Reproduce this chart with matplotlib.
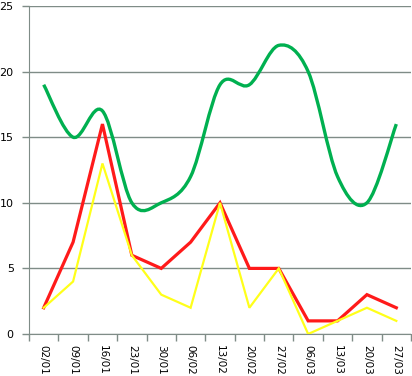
import numpy as np
import matplotlib.pyplot as plt
from matplotlib.path import Path
from matplotlib.patches import PathPatch

dates = ['02/01', '09/01', '16/01', '23/01', '30/01', '06/02', '13/02',
         '20/02', '27/02', '06/03', '13/03', '20/03', '27/03']
green = [19, 15, 17, 10, 10, 12, 19, 19, 22, 20, 12, 10, 16]
red = [2, 7, 16, 6, 5, 7, 10, 5, 5, 1, 1, 3, 2]
yellow = [2, 4, 13, 6, 3, 2, 10, 2, 5, 0, 1, 2, 1]

grid_col = '#7f8c87'


def smooth_path(xs, ys, t=1 / 6):
    # Excel-style smoothed line: bezier segments with catmull-rom handles
    xs = np.asarray(xs, float)
    ys = np.asarray(ys, float)
    n = len(xs)
    verts = [(xs[0], ys[0])]
    codes = [Path.MOVETO]
    for i in range(n - 1):
        p0 = i - 1 if i > 0 else i
        p3 = i + 2 if i + 2 < n else i + 1
        c1 = (xs[i] + (xs[i + 1] - xs[p0]) * t, ys[i] + (ys[i + 1] - ys[p0]) * t)
        c2 = (xs[i + 1] - (xs[p3] - xs[i]) * t, ys[i + 1] - (ys[p3] - ys[i]) * t)
        verts += [c1, c2, (xs[i + 1], ys[i + 1])]
        codes += [Path.CURVE4] * 3
    return Path(verts, codes)


fig = plt.figure(figsize=(4.12, 3.76), dpi=100)
ax = fig.add_axes([29 / 412, 1 - 334 / 376, 382 / 412, 328 / 376])

x = np.arange(len(dates))
ax.plot(x, red, color='#ff1a1a', lw=2.3, solid_joinstyle='miter', zorder=3)
ax.plot(x, yellow, color='#ffff1a', lw=1.6, solid_joinstyle='miter', zorder=4)
ax.add_patch(PathPatch(smooth_path(x, green), facecolor='none',
                       edgecolor='#00b050', lw=2.4, zorder=5))

ax.set_xlim(-0.5, len(dates) - 0.5)
ax.set_ylim(0, 25)
ax.set_yticks(range(0, 26, 5))
ax.yaxis.grid(True, color=grid_col, lw=1)
ax.set_axisbelow(True)

ax.set_xticks(x)
ax.set_xticklabels(dates, rotation=-90, fontsize=7.5)
ax.set_xticks(np.arange(-0.5, len(dates), 1), minor=True)
ax.tick_params(axis='x', which='major', length=0, pad=8)
ax.tick_params(axis='x', which='minor', length=5, color=grid_col, width=1)
ax.tick_params(axis='y', length=5, color=grid_col, width=1, labelsize=8, pad=6)

for s in ['top', 'right']:
    ax.spines[s].set_visible(False)
for s in ['left', 'bottom']:
    ax.spines[s].set_color(grid_col)

fig.savefig('out.png', dpi=100)
